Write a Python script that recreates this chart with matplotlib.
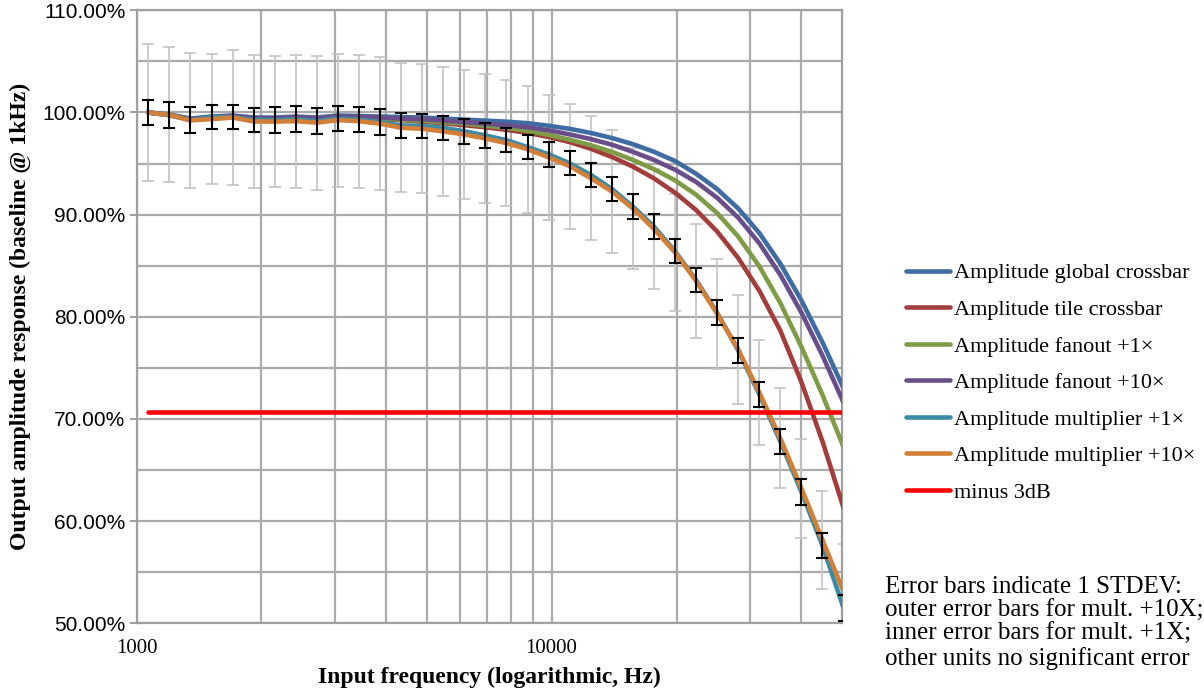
import matplotlib
matplotlib.use('Agg')
import matplotlib.pyplot as plt
from matplotlib.ticker import FixedLocator, FuncFormatter, MultipleLocator
from matplotlib.lines import Line2D

# frequencies of the sweep (Hz), last one lies just past the axis end
freq = [1067, 1200, 1348, 1516, 1704, 1915, 2153, 2419, 2719, 3057,
        3435, 3861, 4340, 4878, 5483, 6162, 6926, 7785, 8750, 9833,
        11053, 12424, 13964, 15696, 17643, 19830, 22290, 25050, 28160, 31650,
        35570, 39990, 44940, 50510]

global_xbar = [100.0, 99.8, 99.4, 99.6, 99.7, 99.5, 99.5, 99.6, 99.5, 99.7,
               99.65, 99.6, 99.55, 99.5, 99.4, 99.3, 99.2, 99.1, 98.95, 98.7,
               98.4, 98.0, 97.5, 96.9, 96.15, 95.25, 94.0, 92.5, 90.6, 88.2,
               85.2, 81.6, 77.5, 73.0]
tile_xbar = [100.0, 99.75, 99.3, 99.5, 99.55, 99.35, 99.35, 99.45, 99.35, 99.5,
             99.45, 99.35, 99.25, 99.1, 98.95, 98.75, 98.55, 98.3, 98.0, 97.6,
             97.1, 96.45, 95.65, 94.7, 93.55, 92.15, 90.45, 88.35, 85.75, 82.55,
             78.65, 73.6, 67.8, 61.3]
fanout_1 = [100.0, 99.75, 99.3, 99.5, 99.6, 99.4, 99.4, 99.5, 99.4, 99.55,
            99.5, 99.4, 99.3, 99.2, 99.05, 98.9, 98.7, 98.5, 98.2, 97.8,
            97.33, 96.8, 96.15, 95.35, 94.45, 93.35, 91.95, 90.15, 87.85, 84.95,
            81.35, 77.05, 72.35, 67.25]
fanout_10 = [100.0, 99.75, 99.35, 99.55, 99.65, 99.45, 99.45, 99.55, 99.45, 99.6,
             99.55, 99.5, 99.4, 99.35, 99.2, 99.05, 98.9, 98.75, 98.55, 98.25,
             97.85, 97.4, 96.85, 96.15, 95.35, 94.4, 93.2, 91.65, 89.7, 87.2,
             84.1, 80.4, 76.2, 71.6]
mult_1 = [100.0, 99.74, 99.25, 99.57, 99.54, 99.28, 99.25, 99.35, 99.15, 99.41,
          99.3, 99.05, 98.73, 98.68, 98.49, 98.16, 97.75, 97.29, 96.61, 95.91,
          95.03, 93.9, 92.52, 90.79, 88.83, 86.42, 83.6, 80.4, 76.7, 72.4,
          67.8, 62.85, 57.6, 51.5]
mult_10 = [100.0, 99.76, 99.22, 99.35, 99.5, 99.12, 99.1, 99.15, 99.0, 99.25,
           99.15, 98.9, 98.5, 98.4, 98.15, 97.85, 97.45, 97.0, 96.4, 95.61,
           94.74, 93.57, 92.27, 90.6, 88.6, 86.3, 83.5, 80.3, 76.8, 72.6,
           68.1, 63.2, 58.15, 53.1]
minus_3db = [70.71] * 34

# 1 STDEV
mult_1_sd = [1.25, 1.25, 1.25, 1.2, 1.2, 1.2, 1.25, 1.25, 1.25, 1.2,
             1.2, 1.25, 1.25, 1.2, 1.2, 1.2, 1.2, 1.2, 1.2, 1.2,
             1.2, 1.2, 1.2, 1.2, 1.2, 1.2, 1.2, 1.2, 1.25, 1.25,
             1.25, 1.25, 1.25, 1.25]
mult_10_sd = [6.75, 6.6, 6.6, 6.4, 6.6, 6.5, 6.4, 6.5, 6.55, 6.5,
              6.5, 6.5, 6.3, 6.3, 6.3, 6.3, 6.3, 6.2, 6.2, 6.1,
              6.1, 6.1, 6.05, 5.9, 5.9, 5.7, 5.56, 5.4, 5.3, 5.15,
              4.9, 4.85, 4.8, 4.7]

labels = ['Amplitude global crossbar', 'Amplitude tile crossbar', 'Amplitude fanout +1\u00d7',
          'Amplitude fanout +10\u00d7', 'Amplitude multiplier +1\u00d7',
          'Amplitude multiplier +10\u00d7', 'minus 3dB']
colors = ['#3F6CA3', '#A23D3B', '#7E9C46', '#6A4E8A', '#3A8BA5', '#D27F38', '#FF0000']
series = [global_xbar, tile_xbar, fanout_1, fanout_10, mult_1, mult_10, minus_3db]

serif = ['Liberation Serif', 'DejaVu Serif']

fig = plt.figure(figsize=(12.04, 6.96), dpi=100)
ax = fig.add_axes([0.1134, 0.1045, 0.5857, 0.8807])

# outer error bars (mult +10X), behind the lines
ax.errorbar(freq, mult_10, yerr=mult_10_sd, fmt='none', ecolor='#c4c4c4',
            elinewidth=1.2, capsize=4, capthick=1.2, zorder=2)

for ys, c in zip(series, colors):
    ax.plot(freq, ys, color=c, lw=3.3, solid_capstyle='round', solid_joinstyle='round', zorder=3)

# inner error bars (mult +1X), on top
ax.errorbar(freq, mult_1, yerr=mult_1_sd, fmt='none', ecolor='black',
            elinewidth=1.5, capsize=4, capthick=1.5, zorder=4)

ax.set_xscale('log')
ax.set_xlim(1000, 50000)
ax.set_ylim(50, 110)

ax.xaxis.set_major_locator(FixedLocator([1000, 10000]))
ax.xaxis.set_major_formatter(FuncFormatter(lambda v, p: '%d' % v))
ax.xaxis.set_minor_locator(FixedLocator([2000, 3000, 4000, 5000, 6000, 7000, 8000, 9000,
                                         20000, 30000, 40000]))
ax.xaxis.set_minor_formatter(FuncFormatter(lambda v, p: ''))
ax.yaxis.set_major_locator(MultipleLocator(10))
ax.yaxis.set_minor_locator(MultipleLocator(5))
ax.yaxis.set_major_formatter(FuncFormatter(lambda v, p: '%.2f%%' % v))

ax.grid(True, which='both', color='#ababab', lw=1.6, zorder=0)
ax.set_axisbelow(True)
for s in ax.spines.values():
    s.set_color('#a0a0a0')
    s.set_linewidth(1.6)

ax.tick_params(axis='y', which='major', length=5, width=1.4, color='#a0a0a0',
               labelsize=15, pad=3)
ax.tick_params(axis='y', which='minor', length=0)
ax.tick_params(axis='x', which='both', length=0, pad=11)
for t in ax.get_yticklabels():
    t.set_family(['Liberation Sans', 'DejaVu Sans'])
for t in ax.get_xticklabels():
    t.set_family(serif)
    t.set_fontsize(15)

ax.set_xlabel('Input frequency (logarithmic, Hz)', family=serif, fontsize=17,
              fontweight='bold', labelpad=7)
ax.set_ylabel('Output amplitude response (baseline @ 1kHz)', family=serif, fontsize=17,
              fontweight='bold', labelpad=8)

handles = [Line2D([], [], color=c, lw=3.3, solid_capstyle='round') for c in colors]
fig.legend(handles, labels, loc='upper left', bbox_to_anchor=(0.745, 0.635),
           frameon=False, prop={'family': serif, 'size': 16},
           handlelength=2.0, handletextpad=0.15, labelspacing=0.72, borderaxespad=0)

fig.text(0.735, 0.173, 'Error bars indicate 1 STDEV:\nouter error bars for mult. +10X;\n'
         'inner error bars for mult. +1X;\nother units no significant error',
         family=serif, fontsize=18, va='top', ha='left', linespacing=1.11)

fig.savefig('out.png', dpi=100)
